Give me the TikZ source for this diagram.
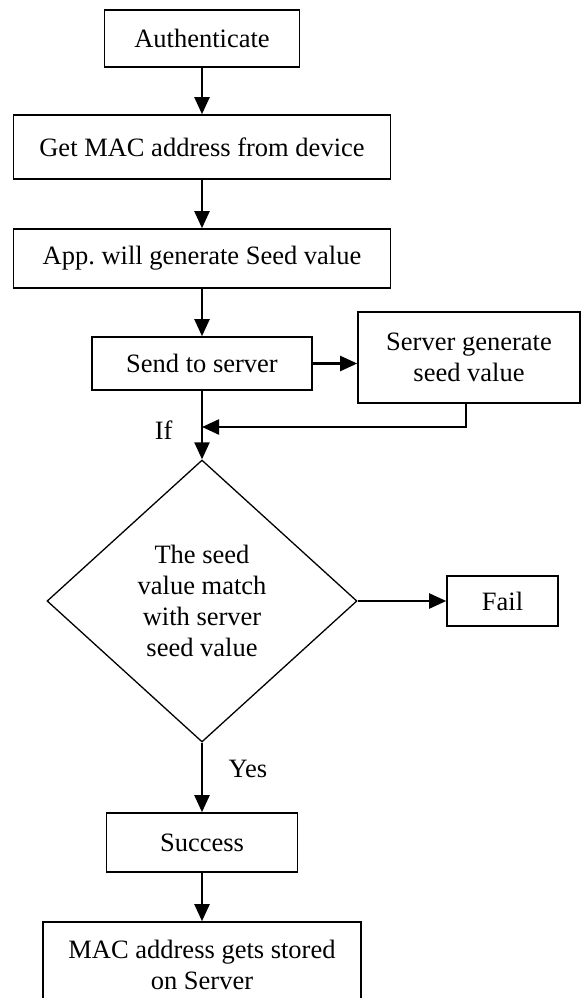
\documentclass[tikz,border=0pt]{standalone}
\usepackage{fontspec}
\setmainfont{Liberation Serif}
\usetikzlibrary{positioning,shapes.geometric,arrows.meta}

\begin{document}
\begin{tikzpicture}[x=1pt, y=1pt, on grid, font=\fontsize{26.5}{31}\selectfont,
		box/.style={rectangle, draw=black, line width=1.6pt, inner sep=0pt, align=center},
		arr/.style={-{Triangle[length=17pt,width=15pt]}, line width=2.2pt}]
	\useasboundingbox (0,0) rectangle (581,-998);
	\node [box, minimum width=195pt, minimum height=57pt] (auth) at (202,-38.5) {Authenticate};
	\node [box, minimum width=377pt, minimum height=64pt] (mac) [below =108.5pt of auth] {Get MAC address from device};
	\node [box, minimum width=377pt, minimum height=59pt] (app) [below =111.5pt of mac] {App.\ will generate Seed value};
	\node [box, minimum width=220pt, minimum height=53pt] (send) [below =105pt of app] {Send to server};
	\node [box, minimum width=222pt, minimum height=91pt] (server) [right =267pt of send, yshift=6pt] {Server generate\\seed value};
	\coordinate [below =63.5pt of send] (join);
	\node [diamond, draw=black, line width=1.3pt, inner sep=0pt, aspect=1.1, align=center,
		minimum width=310pt, minimum height=282pt] (dec) [below =237.5pt of send] {The seed\\value match\\with server\\seed value};
	\node [box, minimum width=111pt, minimum height=50pt] (fail) [right =300.5pt of dec] {Fail};
	\node [box, minimum width=191pt, minimum height=59pt] (succ) [below =241.5pt of dec] {Success};
	\node [box, minimum width=318pt, minimum height=86pt] (stored) [below =122.5pt of succ] {MAC address gets stored\\on Server};
	\node [left =26pt of join, yshift=-3pt] (iflbl) {If};
	\node [below right =14pt and 23pt of dec.south] (yeslbl) {Yes};
	\draw [arr] (auth) -- (mac);
	\draw [arr] (mac) -- (app);
	\draw [arr] (app) -- (send);
	\draw [arr] (send.east) -- (send.east -| server.west);
	\draw [arr] ([xshift=-3pt]server.south) |- (join);
	\draw [arr] (send) -- (dec);
	\draw [arr] (dec.east) -- (fail.west);
	\draw [arr] (dec) -- (succ);
	\draw [arr] (succ) -- (stored);
\end{tikzpicture}
\end{document}
